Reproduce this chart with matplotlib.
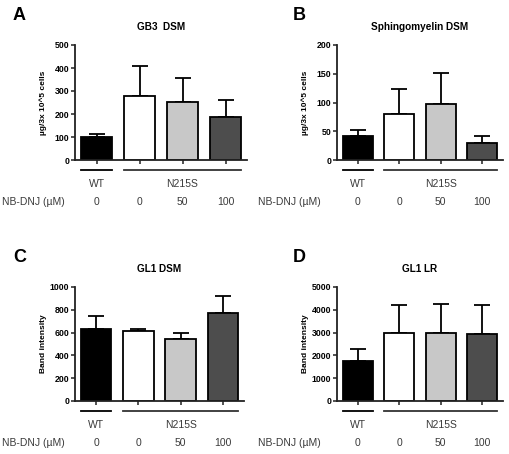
import numpy as np
import matplotlib.pyplot as plt
from matplotlib import transforms

plt.rcParams['font.family'] = ['Liberation Sans', 'DejaVu Sans']

groups = ['WT', 'N215S']
doses = ['0', '0', '50', '100']
bar_colors = ['#000000', '#ffffff', '#c8c8c8', '#4d4d4d']

gb3_mean = [100, 280, 253, 185]
gb3_err = [13, 127, 102, 78]
sm_mean = [41, 80, 98, 29]
sm_err = [12, 44, 54, 13]
gl1dsm_mean = [635, 615, 545, 775]
gl1dsm_err = [108, 20, 52, 147]
gl1lr_mean = [1770, 3000, 3000, 2930]
gl1lr_err = [500, 1230, 1250, 1260]

W, H = 510, 454
fig = plt.figure(figsize=(W / 100, H / 100), dpi=100)

panels = [
    ('A', 'GB3  DSM', gb3_mean, gb3_err, 500, 100, 'µg/3x 10^5 cells', (75, 45, 247, 160)),
    ('B', 'Sphingomyelin DSM', sm_mean, sm_err, 200, 50, 'µg/3x 10^5 cells', (337, 45, 503, 160)),
    ('C', 'GL1 DSM', gl1dsm_mean, gl1dsm_err, 1000, 200, 'Band intensity', (75, 287, 244, 401)),
    ('D', 'GL1 LR', gl1lr_mean, gl1lr_err, 5000, 1000, 'Band intensity', (337, 287, 503, 401)),
]

txt_col = '#3a3a3a'
for letter, title, mean, err, ymax, step, ylab, (x0, y0, x1, y1) in panels:
    ax = fig.add_axes([x0 / W, 1 - y1 / H, (x1 - x0) / W, (y1 - y0) / H])
    x = np.arange(4)
    ax.bar(x, mean, width=0.72, color=bar_colors, edgecolor='black', linewidth=1.3, zorder=2)
    ax.errorbar(x, mean, yerr=[np.zeros(4), err], fmt='none', ecolor='black',
                elinewidth=1.3, capsize=5.5, capthick=1.3, zorder=1)
    ax.set_xlim(-0.5, 3.5)
    ax.set_ylim(0, ymax)
    ax.set_yticks(np.arange(0, ymax + 1, step))
    ax.set_xticks(x)
    ax.set_xticklabels([])
    for s in ['top', 'right']:
        ax.spines[s].set_visible(False)
    for s in ['left', 'bottom']:
        ax.spines[s].set_linewidth(1.3)
        ax.spines[s].set_color('#222222')
    ax.tick_params(axis='both', direction='out', length=3, width=1.1, color='#222222')
    ax.tick_params(axis='y', labelsize=6.3, pad=1)
    for lab in ax.get_yticklabels():
        lab.set_fontweight('bold')
    ax.set_ylabel(ylab, fontsize=6, fontweight='bold')
    ax.yaxis.set_label_coords(-28 / (x1 - x0), 0.5)
    ax.set_title(title, fontsize=7.2, fontweight='bold', pad=11)

    tr = transforms.blended_transform_factory(ax.transData, ax.transAxes)
    h = y1 - y0
    ly = -10 / h
    ax.plot([-0.36, 0.36], [ly, ly], color='black', lw=1.3, transform=tr, clip_on=False)
    ax.plot([0.64, 3.36], [ly, ly], color='#333333', lw=1.3, transform=tr, clip_on=False)
    ax.text(0, -24 / h, groups[0], transform=tr, ha='center', va='center', fontsize=7.5, color=txt_col)
    ax.text(2, -24 / h, groups[1], transform=tr, ha='center', va='center', fontsize=7.5, color=txt_col)
    for xi, d in zip(x, doses):
        ax.text(xi, -42 / h, d, transform=tr, ha='center', va='center', fontsize=7.5, color=txt_col)
    fig.text((x0 - 73 if x0 < 200 else x0 - 79) / W, 1 - (y1 + 42) / H, 'NB-DNJ (µM)',
             ha='left', va='center', fontsize=7.5, color=txt_col)
    fig.text((x0 - 62 if x0 < 200 else x0 - 44) / W, 1 - (y0 - 30) / H, letter,
             ha='left', va='center', fontsize=13, fontweight='bold')

fig.savefig('out.png', dpi=100)
